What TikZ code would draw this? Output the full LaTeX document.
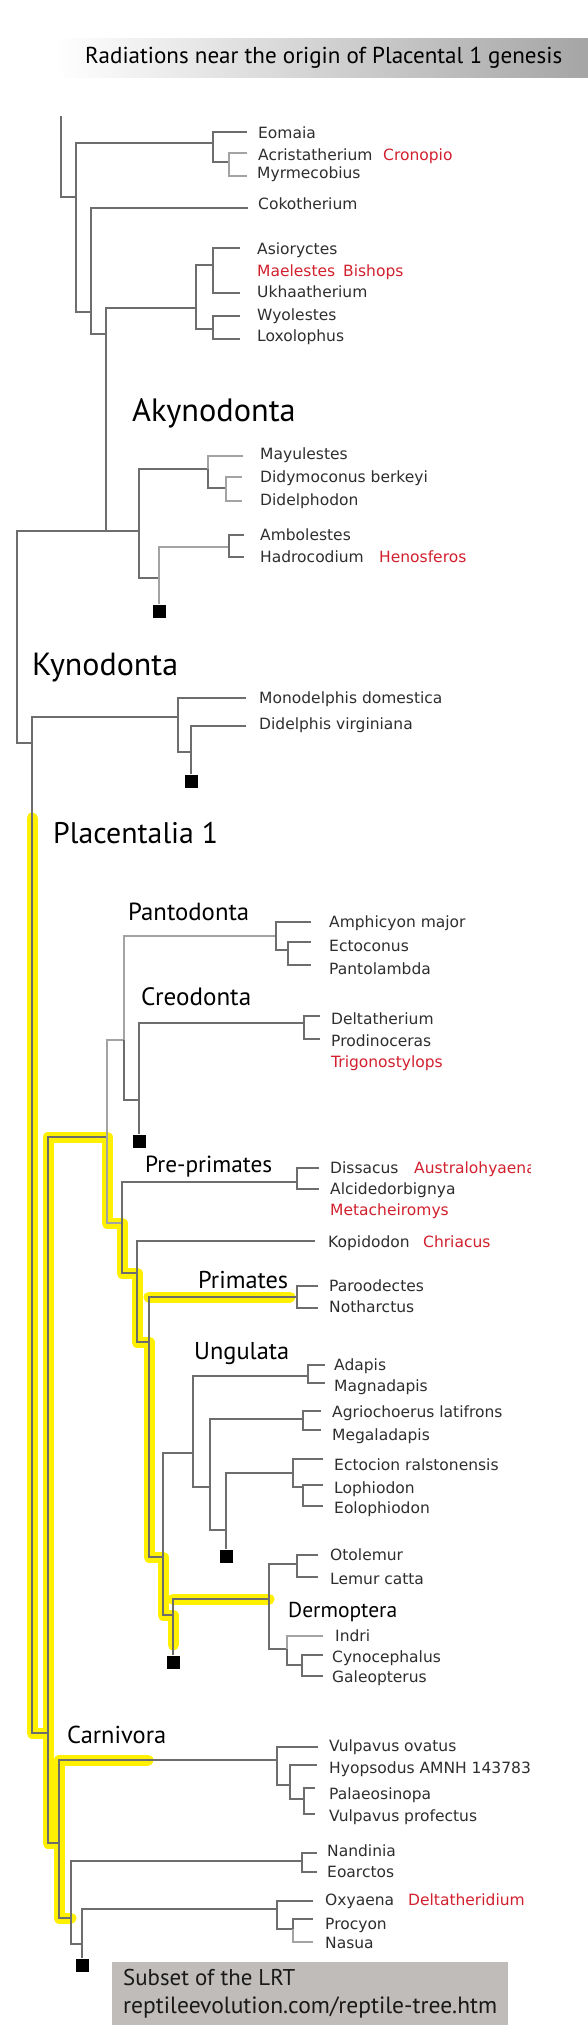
\documentclass[tikz,border=0pt]{standalone}
\usepackage{fontspec}
\setmainfont{DejaVu Sans}
\newfontfamily\hfont{PT Sans}
\newcommand{\fitw}[2]{\resizebox{#1pt}{!}{#2}}
\definecolor{ln}{HTML}{6D6D6D}
\definecolor{lnl}{HTML}{A3A3A3}
\definecolor{hl}{RGB}{255,240,0}
\definecolor{rd}{HTML}{D2202E}
\definecolor{tx}{HTML}{2E2E2E}
\definecolor{boxg}{HTML}{BFBCBA}
\definecolor{titleg}{HTML}{A5A5A5}
\definecolor{boxtx}{HTML}{191919}
\tikzset{
 br/.style={draw=ln, line width=1.3pt},
 brl/.style={draw=lnl, line width=1.3pt},
 hilite/.style={draw=hl, line width=11pt, line cap=round, line join=round},
 lab/.style={anchor=base west, inner sep=0pt, text=tx, font=\fontsize{15.5}{18}\selectfont},
 redlab/.style={lab, text=rd},
 hd/.style={anchor=base west, inner sep=0pt, text=black, font=\hfont\fontsize{24}{24}\selectfont},
 sqbox/.style={fill=black, minimum size=13pt, inner sep=0pt, draw=none},
}
\begin{document}
\begin{tikzpicture}[x=1pt,y=-1pt]
\useasboundingbox (0,0) rectangle (588,2034);
\fill[white] (0,0) rectangle (588,2034);
% title
\shade[left color=white, right color=titleg] (55,39) rectangle (588,77);
\node[hd] (title) at (85,64) {\fitw{477}{Radiations near the origin of Placental 1 genesis}};

% ---------- internal node coordinates ----------
\coordinate (top0) at (61,116);
\coordinate (N1) at (76,197);
\coordinate (E1) at (213,143);
\coordinate (E2) at (229,162);
\coordinate (N2) at (91,312);
\coordinate (N3) at (106,334);
\coordinate (N3b) at (106,531);
\coordinate (A1) at (196,308);
\coordinate (A2) at (213,265);
\coordinate (A3) at (213,329);
\coordinate (R) at (17,640);
\coordinate (AK) at (139,531);
\coordinate (M1) at (208,469);
\coordinate (M2) at (226,488);
\coordinate (H0) at (159,578);
\coordinate (H1) at (229,547);
\coordinate (K) at (32,743);
\coordinate (KM) at (178,717);
\coordinate (KD) at (191,752);
\coordinate (Q) at (48,1733);
\coordinate (PP) at (107,1137);
\coordinate (PC) at (124,1040);
\coordinate (PA) at (276,936);
\coordinate (PA2) at (288,950);
\coordinate (CR) at (139,1100);
\coordinate (CR1) at (304,1023);
\coordinate (PR) at (122,1223);
\coordinate (D1) at (297,1182);
\coordinate (KP) at (137,1273);
\coordinate (PM) at (149,1342);
\coordinate (PT) at (297,1297);
\coordinate (UG) at (163,1557);
\coordinate (U1) at (193,1453);
\coordinate (U2) at (308,1376);
\coordinate (U3) at (210,1487);
\coordinate (U4) at (303,1419);
\coordinate (U5) at (226,1530);
\coordinate (U6) at (293,1473);
\coordinate (U7) at (303,1487);
\coordinate (DM) at (173,1615);
\coordinate (DR) at (269,1599);
\coordinate (OL) at (297,1564);
\coordinate (IN) at (287,1649);
\coordinate (CY) at (302,1665);
\coordinate (CA) at (59,1843);
\coordinate (CV) at (277,1760);
\coordinate (CV2) at (290,1785);
\coordinate (CV3) at (304,1799);
\coordinate (NO) at (71,1918);
\coordinate (NA) at (302,1861);
\coordinate (OX) at (82,1944);
\coordinate (OX1) at (277,1909);
\coordinate (PN) at (293,1929);
% highlight helpers
\coordinate (hl0) at (32,818);
\coordinate (hl1) at (173,1645);
\coordinate (hlP) at (290,1297);
\coordinate (hlC) at (148,1760);

% ---------- leaf ends ----------
\coordinate (eomaia) at (247,132);
\coordinate (acri) at (247,153);
\coordinate (myrm) at (247,176);
\coordinate (coko) at (248,208);
\coordinate (asio) at (240,248);
\coordinate (ukha) at (240,293);
\coordinate (wyol) at (240,316);
\coordinate (loxo) at (240,339);
\coordinate (mayu) at (243,456);
\coordinate (didy) at (242,477);
\coordinate (dide) at (242,501);
\coordinate (ambo) at (244,535);
\coordinate (hadr) at (244,557);
\coordinate (mono) at (246,698);
\coordinate (didel) at (246,726);
\coordinate (amph) at (311,922);
\coordinate (ecto) at (311,942);
\coordinate (pant) at (311,965);
\coordinate (delt) at (320,1016);
\coordinate (prod) at (320,1039);
\coordinate (diss) at (319,1168);
\coordinate (alci) at (319,1189);
\coordinate (kopi) at (315,1241);
\coordinate (paro) at (318,1286);
\coordinate (noth) at (318,1308);
\coordinate (adap) at (325,1365);
\coordinate (magn) at (325,1383);
\coordinate (agri) at (321,1411);
\coordinate (mega) at (321,1430);
\coordinate (ecti) at (323,1459);
\coordinate (loph) at (323,1485);
\coordinate (eolo) at (323,1506);
\coordinate (otol) at (318,1555);
\coordinate (lemu) at (318,1577);
\coordinate (indr) at (323,1636);
\coordinate (cyno) at (323,1655);
\coordinate (gale) at (323,1676);
\coordinate (vulo) at (318,1747);
\coordinate (hyop) at (317,1765);
\coordinate (pala) at (315,1788);
\coordinate (vulp) at (315,1814);
\coordinate (nand) at (317,1853);
\coordinate (eoar) at (317,1872);
\coordinate (oxya) at (313,1901);
\coordinate (proc) at (313,1919);
\coordinate (nasu) at (313,1942);

% ---------- yellow highlight ----------
\draw[hilite] (hl0) |- (Q);
\draw[hilite] (CA) -| (Q) |- (PP) |- (PR) |- (KP) |- (PM) |- (UG) |- (DM) -- (hl1);
\draw[hilite] (PM |- PT) -- (hlP);
\draw[hilite] (DM |- DR) -- (DR);
\draw[hilite] (hlC) -| (CA) |- (NO);

% ---------- squares ----------
\node[sqbox] (sq1) at (159,611) {};
\node[sqbox] (sq2) at (191,781) {};
\node[sqbox] (sq3) at (139,1141) {};
\node[sqbox] (sq4) at (226,1556) {};
\node[sqbox] (sq5) at (173,1662) {};
\node[sqbox] (sq6) at (82,1965) {};

% ---------- branches ----------
\draw[br] (top0) |- (N1);
\draw[br] (E1) -| (N1) |- (N2);
\draw[br] (eomaia) -| (E1) |- (E2);
\draw[brl] (acri) -| (E2) |- (myrm);
\draw[br] (coko) -| (N2) |- (N3);
\draw[br] (A1) -| (N3) -- (N3b);
\draw[br] (A2) -| (A1) |- (A3);
\draw[br] (asio) -| (A2) |- (ukha);
\draw[br] (wyol) -| (A3) |- (loxo);
\draw[br] (AK) -| (R) |- (K);
\draw[br] (M1) -| (AK) |- (H0);
\draw[brl] (mayu) -| (M1);
\draw[br] (M1) |- (M2);
\draw[brl] (didy) -| (M2) |- (dide);
\draw[brl] (H1) -| (H0) -- (sq1);
\draw[br] (ambo) -| (H1) |- (hadr);
\draw[br] (KM) -| (K) |- (Q);
\draw[br] (mono) -| (KM) |- (KD);
\draw[br] (didel) -| (KD) -- (sq2);
\draw[br] (PP) -| (Q) |- (CA);
\draw[brl] (PC) -| (PP) |- (PR);
\draw[brl] (PA) -| (PC);
\draw[br] (PC) |- (CR);
\draw[br] (amph) -| (PA) |- (PA2);
\draw[br] (ecto) -| (PA2) |- (pant);
\draw[br] (CR1) -| (CR) -- (sq3);
\draw[br] (delt) -| (CR1) |- (prod);
\draw[br] (D1) -| (PR) |- (KP);
\draw[br] (diss) -| (D1) |- (alci);
\draw[br] (kopi) -| (KP) |- (PM);
\draw[br] (PT) -| (PM) |- (UG);
\draw[br] (paro) -| (PT) |- (noth);
\draw[br] (U1) -| (UG) |- (DM);
\draw[br] (U2) -| (U1) |- (U3);
\draw[br] (adap) -| (U2) |- (magn);
\draw[br] (U4) -| (U3) |- (U5);
\draw[br] (agri) -| (U4) |- (mega);
\draw[br] (U6) -| (U5) -- (sq4);
\draw[br] (ecti) -| (U6) |- (U7);
\draw[br] (loph) -| (U7) |- (eolo);
\draw[br] (DR) -| (DM) -- (sq5);
\draw[br] (OL) -| (DR) |- (IN);
\draw[br] (otol) -| (OL) |- (lemu);
\draw[brl] (indr) -| (IN);
\draw[br] (IN) |- (CY);
\draw[br] (cyno) -| (CY) |- (gale);
\draw[br] (CV) -| (CA) |- (NO);
\draw[br] (vulo) -| (CV) |- (CV2);
\draw[br] (hyop) -| (CV2) |- (CV3);
\draw[br] (pala) -| (CV3) |- (vulp);
\draw[br] (NA) -| (NO) |- (OX);
\draw[br] (nand) -| (NA) |- (eoar);
\draw[br] (OX1) -| (OX) -- (sq6);
\draw[br] (oxya) -| (OX1) |- (PN);
\draw[br] (proc) -| (PN);
\draw[brl] (PN) |- (nasu);

% ---------- headings ----------
\node[hd] (hAky) at (132,421) {\fitw{163.5}{Akynodonta}};
\node[hd] (hKyn) at (32,675) {\fitw{146}{Kynodonta}};
\node[hd] (hPla) at (53,843) {\fitw{165}{Placentalia 1}};
\node[hd] (hPan) at (128,920) {\fitw{121}{Pantodonta}};
\node[hd] (hCre) at (141,1005) {\fitw{110}{Creodonta}};
\node[hd] (hPre) at (145,1172) {\fitw{127}{Pre-primates}};
\node[hd] (hPri) at (198,1288) {\fitw{90}{Primates}};
\node[hd] (hUng) at (194,1359) {\fitw{95}{Ungulata}};
\node[hd] (hDer) at (288,1617) {\fitw{109}{Dermoptera}};
\node[hd] (hCar) at (67,1743) {\fitw{99}{Carnivora}};

% ---------- leaf labels ----------
\node[lab] (tEomaia) at (258,138.5) {Eomaia};
\node[lab] (tAcri) at (258,160.5) {Acristatherium};
\node[redlab] (tCron) at (383,160.5) {Cronopio};
\node[lab] (tMyrm) at (257,178.5) {Myrmecobius};
\node[lab] (tCoko) at (258,209.5) {Cokotherium};
\node[lab] (tAsio) at (257,254.5) {Asioryctes};
\node[redlab] (tMael) at (257,276.5) {Maelestes};
\node[redlab] (tBish) at (343,276.5) {Bishops};
\node[lab] (tUkha) at (257,297.5) {Ukhaatherium};
\node[lab] (tWyol) at (257,320.5) {Wyolestes};
\node[lab] (tLoxo) at (257,341.5) {Loxolophus};
\node[lab] (tMayu) at (260,459.5) {Mayulestes};
\node[lab] (tDidy) at (260,482.5) {Didymoconus berkeyi};
\node[lab] (tDide) at (260,505.5) {Didelphodon};
\node[lab] (tAmbo) at (260,540.5) {Ambolestes};
\node[lab] (tHadr) at (260,562.5) {Hadrocodium};
\node[redlab] (tHeno) at (379,562.5) {Henosferos};
\node[lab] (tMono) at (259,703.5) {Monodelphis domestica};
\node[lab] (tDidel) at (259,729.5) {Didelphis virginiana};
\node[lab] (tAmph) at (329,927.5) {Amphicyon major};
\node[lab] (tEcto) at (329,951.5) {Ectoconus};
\node[lab] (tPant) at (329,974.5) {Pantolambda};
\node[lab] (tDelt) at (331,1024.5) {Deltatherium};
\node[lab] (tProd) at (331,1046.5) {Prodinoceras};
\node[redlab] (tTrig) at (331,1067.5) {Trigonostylops};
\node[lab] (tDiss) at (330,1173.5) {Dissacus};
\begin{scope}
\clip (0,1150) rectangle (530,1190);
\node[redlab] (tAust) at (414,1173.5) {Australohyaena};
\end{scope}
\node[lab] (tAlci) at (330,1194.5) {Alcidedorbignya};
\node[redlab] (tMeta) at (330,1215.5) {Metacheiromys};
\node[lab] (tKopi) at (328,1247.5) {Kopidodon};
\node[redlab] (tChri) at (423,1247.5) {Chriacus};
\node[lab] (tParo) at (329,1291.5) {Paroodectes};
\node[lab] (tNoth) at (329,1312.5) {Notharctus};
\node[lab] (tAdap) at (334,1370.5) {Adapis};
\node[lab] (tMagn) at (334,1391.5) {Magnadapis};
\node[lab] (tAgri) at (332,1417.5) {Agriochoerus latifrons};
\node[lab] (tMega) at (332,1440.5) {Megaladapis};
\node[lab] (tEcti) at (334,1470.5) {Ectocion ralstonensis};
\node[lab] (tLoph) at (334,1493.5) {Lophiodon};
\node[lab] (tEolo) at (334,1513.5) {Eolophiodon};
\node[lab] (tOtol) at (330,1560.5) {Otolemur};
\node[lab] (tLemu) at (330,1584.5) {Lemur catta};
\node[lab] (tIndr) at (335,1641.5) {Indri};
\node[lab] (tCyno) at (332,1662.5) {Cynocephalus};
\node[lab] (tGale) at (332,1682.5) {Galeopterus};
\node[lab] (tVulo) at (329,1751.5) {Vulpavus ovatus};
\node[lab] (tHyop) at (329,1773.5) {Hyopsodus AMNH 143783};
\node[lab] (tPala) at (329,1799.5) {Palaeosinopa};
\node[lab] (tVulp) at (329,1821.5) {Vulpavus profectus};
\node[lab] (tNand) at (327,1856.5) {Nandinia};
\node[lab] (tEoar) at (327,1877.5) {Eoarctos};
\node[lab] (tOxya) at (325,1905.5) {Oxyaena};
\node[redlab] (tDeltd) at (408,1905.5) {Deltatheridium};
\node[lab] (tProc) at (325,1929.5) {Procyon};
\node[lab] (tNasu) at (325,1948.5) {Nasua};

% ---------- source box ----------
\node[fill=boxg, minimum width=396pt, minimum height=63pt, inner sep=0pt, anchor=north west] (srcbox) at (112,1962) {};
\node[hd, text=boxtx] (src1) at (123,1985) {\fitw{172}{Subset of the LRT}};
\node[hd, text=boxtx] (src2) at (123,2013) {\fitw{374}{reptileevolution.com/reptile-tree.htm}};
\end{tikzpicture}
\end{document}
